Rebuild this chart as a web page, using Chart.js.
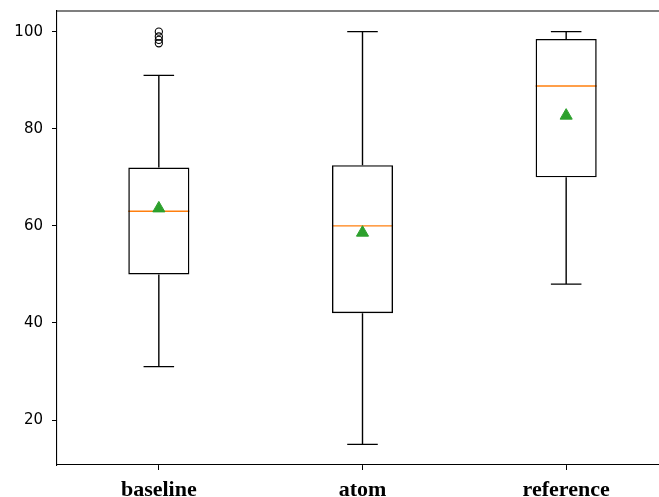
<!DOCTYPE html>
<html>
<head>
<meta charset="utf-8">
<script src="https://cdn.jsdelivr.net/npm/chart.js@4.4.0/dist/chart.umd.min.js"></script>
<style>
  html, body { margin: 0; padding: 0; background: #fff; overflow: hidden; }
  #wrap { width: 659px; height: 497px; overflow: hidden; }
</style>
</head>
<body>
<div id="wrap"><canvas id="chart" width="676" height="497"></canvas></div>
<script>
// Box plot data
const categories = ['baseline', 'atom', 'reference'];
const q1 = [50, 42, 70];
const q3 = [72, 72.5, 98.5];
const medians = [63, 60, 88.8];
const means = [63.6, 58.6, 82.7];
const whiskerLow = [31, 15, 48];
const whiskerHigh = [91, 100, 100];
const outliers = [[100, 99, 98.3, 97.6], [], []];
const yTicks = [20, 40, 60, 80, 100];

// whiskers, caps, medians and the frame, drawn through the scales
const boxExtras = {
    id: 'boxExtras',
    beforeDatasetsDraw(chart) {
        const ctx = chart.ctx;
        const x = chart.scales.x;
        const y = chart.scales.y;
        const step = x.getPixelForValue(1) - x.getPixelForValue(0);
        const boxHalf = step * 0.15;
        const capHalf = step * 0.075;
        ctx.save();
        ctx.lineWidth = 1.4;
        categories.forEach((c, i) => {
            const cx = x.getPixelForValue(i);
            ctx.strokeStyle = '#000';
            ctx.beginPath();
            ctx.moveTo(cx, y.getPixelForValue(q3[i]));
            ctx.lineTo(cx, y.getPixelForValue(whiskerHigh[i]));
            ctx.moveTo(cx, y.getPixelForValue(q1[i]));
            ctx.lineTo(cx, y.getPixelForValue(whiskerLow[i]));
            ctx.moveTo(cx - capHalf, y.getPixelForValue(whiskerHigh[i]));
            ctx.lineTo(cx + capHalf, y.getPixelForValue(whiskerHigh[i]));
            ctx.moveTo(cx - capHalf, y.getPixelForValue(whiskerLow[i]));
            ctx.lineTo(cx + capHalf, y.getPixelForValue(whiskerLow[i]));
            ctx.stroke();

            ctx.strokeStyle = '#ff7f0e';
            ctx.beginPath();
            ctx.moveTo(cx - boxHalf, y.getPixelForValue(medians[i]));
            ctx.lineTo(cx + boxHalf, y.getPixelForValue(medians[i]));
            ctx.stroke();
        });
        // top and right spines
        const a = chart.chartArea;
        ctx.strokeStyle = '#000';
        ctx.lineWidth = 1.1;
        ctx.beginPath();
        ctx.moveTo(a.left, a.top);
        ctx.lineTo(a.right, a.top);
        ctx.lineTo(a.right, a.bottom);
        ctx.stroke();
        ctx.restore();
    }
};

const outlierPoints = [];
outliers.forEach((list, i) => list.forEach(v => outlierPoints.push({ x: categories[i], y: v })));

new Chart(document.getElementById('chart'), {
    type: 'bar',
    data: {
        labels: categories,
        datasets: [{
            type: 'line',
            data: categories.map((c, i) => ({ x: c, y: means[i] })),
            showLine: false,
            pointStyle: 'triangle',
            pointRadius: 7,
            backgroundColor: '#2ca02c',
            borderColor: '#2ca02c',
            borderWidth: 1,
            order: 0
        }, {
            type: 'line',
            data: outlierPoints,
            showLine: false,
            pointStyle: 'circle',
            pointRadius: 3.6,
            backgroundColor: 'rgba(0,0,0,0)',
            borderColor: '#000',
            borderWidth: 1.1,
            order: 1
        }, {
            data: categories.map((c, i) => [q1[i], q3[i]]),
            backgroundColor: 'rgba(0,0,0,0)',
            borderColor: '#000',
            borderWidth: 1.4,
            borderSkipped: false,
            barPercentage: 0.3,
            categoryPercentage: 1,
            order: 2
        }]
    },
    options: {
        responsive: false,
        animation: false,
        layout: { padding: { top: 11, right: 2, left: 0, bottom: 0 } },
        plugins: { legend: { display: false }, tooltip: { enabled: false } },
        scales: {
            x: {
                offset: true,
                grid: { display: true, drawOnChartArea: false, tickLength: 5, color: '#000', offset: false },
                border: { display: true, color: '#000', width: 1.1 },
                ticks: { color: '#000', padding: 7, font: { family: 'Liberation Serif', weight: 'bold', size: 22 } },
                afterFit: s => { s.height = 32; s.paddingLeft = 0; s.paddingRight = 0; }
            },
            y: {
                min: 10.75,
                max: 104.25,
                grid: { display: true, drawOnChartArea: false, tickLength: 5, color: '#000' },
                border: { display: true, color: '#000', width: 1.1 },
                ticks: { color: '#000', padding: 9, font: { family: 'DejaVu Sans', size: 15 } },
                afterBuildTicks: s => { s.ticks = yTicks.map(v => ({ value: v })); },
                afterFit: s => { s.width = 57; s.paddingTop = 0; s.paddingBottom = 0; }
            }
        }
    },
    plugins: [boxExtras]
});
</script>
</body>
</html>
